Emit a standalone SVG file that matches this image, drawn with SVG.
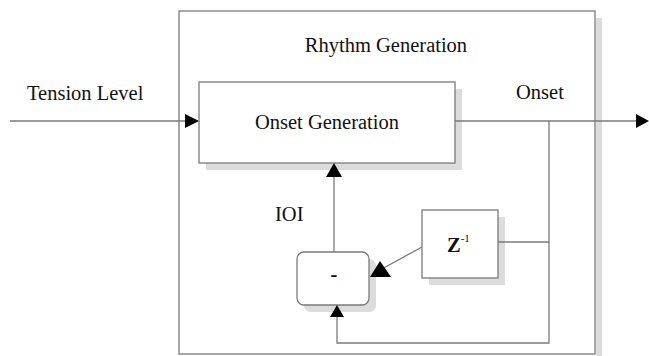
<svg xmlns="http://www.w3.org/2000/svg" width="649" height="356" viewBox="0 0 649 356">
<style>
.box{fill:#fff;stroke:#7a7a7a;stroke-width:1.3}
.sh{fill:#dcdcdc}
.ln{fill:none;stroke:#7a7a7a;stroke-width:1.3}
.t{font-family:"Liberation Serif","Times New Roman",serif;font-size:20.5px;fill:#111}
.ah{fill:#000}
</style>
<rect width="649" height="356" fill="#fff"/>
<g id="rhythm-generation">
<rect class="sh" x="596" y="18" width="6" height="338"/>
<rect class="box" x="179" y="11" width="416" height="343"/>
<text class="t" x="386" y="52" text-anchor="middle">Rhythm Generation</text>
</g>
<g id="onset-generation">
<rect class="sh" x="206" y="89" width="256" height="81"/>
<rect class="box" x="199" y="82" width="256" height="81"/>
<text class="t" x="327" y="129" text-anchor="middle">Onset Generation</text>
</g>
<g id="delay">
<rect class="sh" x="429" y="217" width="76" height="68"/>
<rect class="box" x="422" y="210" width="76" height="68"/>
<text class="t" x="447" y="252" font-weight="bold">Z<tspan font-size="11" font-weight="normal" dy="-10">-1</tspan></text>
</g>
<g id="subtract">
<rect class="sh" x="304" y="259" width="72" height="53" rx="7"/>
<rect class="box" x="297" y="252" width="72" height="53" rx="7"/>
<text class="t" x="334" y="281" text-anchor="middle" font-weight="bold">-</text>
</g>
<g id="labels">
<text class="t" x="27" y="100">Tension Level</text>
<text class="t" x="516" y="99">Onset</text>
<text class="t" x="275" y="221">IOI</text>
</g>
<g id="connectors">
<line class="ln" x1="10" y1="121" x2="186" y2="121"/>
<polygon class="ah" points="185,114 199,121 185,128"/>
<line class="ln" x1="455" y1="121" x2="637" y2="121"/>
<polygon class="ah" points="636,114 649,121 636,128"/>
<polyline class="ln" points="549,121 549,343 337,343 337,317"/>
<polygon class="ah" points="337,305 330,317 344,317"/>
<line class="ln" x1="498" y1="242" x2="549" y2="242"/>
<line class="ln" x1="334" y1="252" x2="334" y2="176"/>
<polygon class="ah" points="334,163 326,177 342,177"/>
<line class="ln" x1="422" y1="247" x2="380" y2="270"/>
<polygon class="ah" points="380,261 370,277 391,277"/>
</g>
</svg>
